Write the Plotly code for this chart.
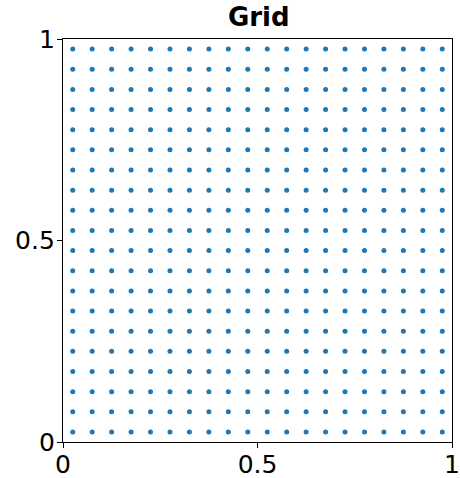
import itertools
import plotly.graph_objects as go

# Grid cell centres (20 x 20)
grid_coords = [0.025, 0.075, 0.125, 0.175, 0.225, 0.275, 0.325, 0.375, 0.425, 0.475,
               0.525, 0.575, 0.625, 0.675, 0.725, 0.775, 0.825, 0.875, 0.925, 0.975]
tick_vals = [0, 0.5, 1]
tick_text = ["0", "0.5", "1"]
title_text = "Grid"

pts = list(itertools.product(grid_coords, grid_coords))
xs = [p[0] for p in pts]
ys = [p[1] for p in pts]

fig = go.Figure(go.Scatter(
    x=xs, y=ys, mode="markers",
    marker=dict(color="#1f77b4", size=5, line=dict(width=0)),
    hoverinfo="skip", showlegend=False,
))

font = "DejaVu Sans"
axis_common = dict(
    range=[0, 1], showgrid=False, zeroline=False,
    showline=True, linecolor="black", linewidth=1.3, mirror=True,
    ticks="outside", ticklen=5, tickwidth=1.3, tickcolor="black",
    tickvals=tick_vals, ticktext=tick_text,
    tickfont=dict(family=font, size=25, color="black"),
    automargin=False, ticklabeloverflow="allow",
)

fig.update_layout(
    width=460, height=478,
    margin=dict(l=63, r=8, t=39, b=36),
    paper_bgcolor="white", plot_bgcolor="white",
    title=dict(text="<b>" + title_text + "</b>", x=0.5625, xanchor="center",
               y=1 - 17 / 478, yanchor="middle", yref="container",
               font=dict(family=font, size=26, color="black")),
    xaxis=dict(**axis_common, ticklabelstandoff=-5),
    yaxis=dict(**axis_common, ticklabelstandoff=-3),
)

fig.write_html("out.html")
